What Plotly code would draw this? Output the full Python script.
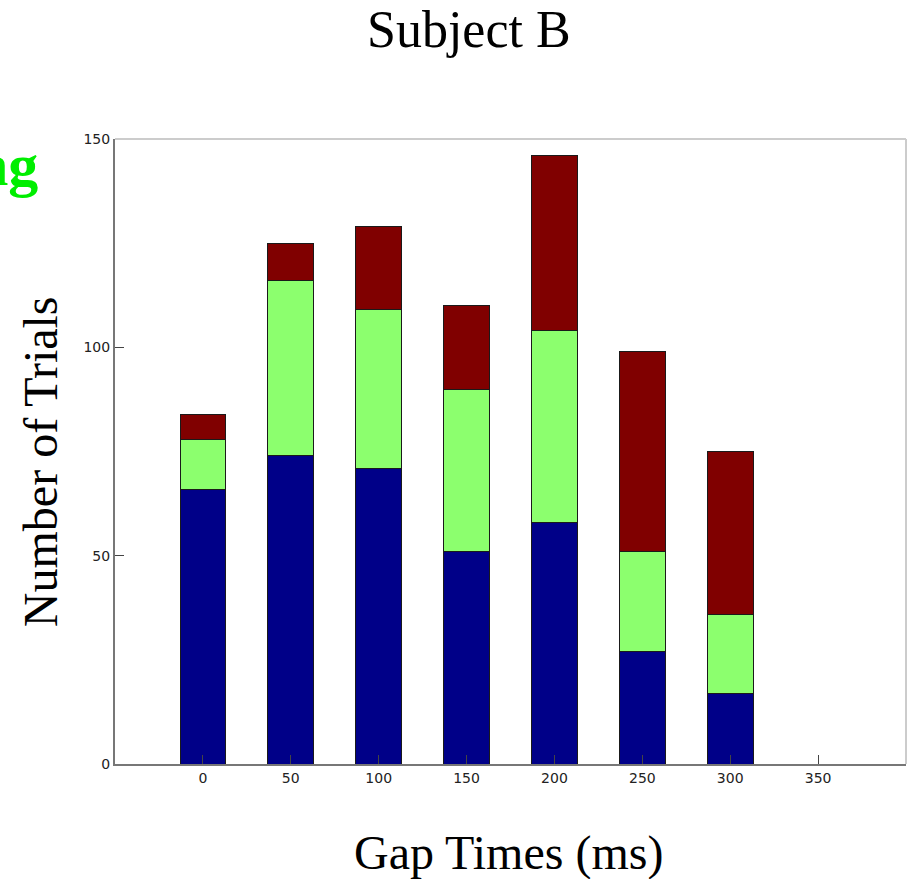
import plotly.graph_objects as go

# Gap times (ms) and trial counts per response category
gap_times = [0, 50, 100, 150, 200, 250, 300]
tick_values = [0, 50, 100, 150, 200, 250, 300, 350]
series_bottom = [66, 74, 71, 51, 58, 27, 17]   # navy segment
series_middle = [12, 42, 38, 39, 46, 24, 19]   # light green segment
series_top = [6, 9, 20, 20, 42, 48, 39]        # dark red segment

colors = ["#000088", "#8CFF6E", "#800000"]
serif = "Liberation Serif, Times New Roman, serif"

fig = go.Figure()
for vals, col in zip([series_bottom, series_middle, series_top], colors):
    fig.add_trace(go.Bar(
        x=gap_times, y=vals, width=26,
        marker=dict(color=col, line=dict(color="#1a1a1a", width=1)),
        showlegend=False,
    ))

fig.update_layout(
    barmode="stack",
    width=912, height=879,
    margin=dict(l=115, r=6, t=139, b=115),
    paper_bgcolor="white", plot_bgcolor="white",
    xaxis=dict(
        range=[-50, 400], tickvals=tick_values,
        ticks="inside", ticklen=9, tickcolor="#444", tickwidth=1,
        showline=True, linecolor="#777", linewidth=2,
        showgrid=False, zeroline=False,
        tickfont=dict(family="DejaVu Sans", size=14, color="#222"),
    ),
    yaxis=dict(
        range=[0, 150], tickvals=[0, 50, 100, 150],
        ticks="inside", ticklen=9, tickcolor="#444", tickwidth=1,
        showline=True, linecolor="#777", linewidth=2,
        showgrid=False, zeroline=False,
        tickfont=dict(family="DejaVu Sans", size=14, color="#222"),
    ),
    shapes=[
        dict(type="line", xref="paper", yref="paper", x0=0, x1=1, y0=1, y1=1,
             line=dict(color="#cccccc", width=2)),
        dict(type="line", xref="paper", yref="paper", x0=1, x1=1, y0=0, y1=1,
             line=dict(color="#cccccc", width=2)),
    ],
    annotations=[
        dict(text="Subject B", xref="paper", yref="paper", x=0.4475, y=1.1744,
             xanchor="center", yanchor="middle", showarrow=False,
             font=dict(family=serif, size=52, color="black")),
        dict(text="Gap Times (ms)", xref="paper", yref="paper", x=0.497, y=-0.1424,
             xanchor="center", yanchor="middle", showarrow=False,
             font=dict(family=serif, size=48, color="black")),
        dict(text="Number of Trials", xref="paper", yref="paper", x=-0.0948, y=0.483,
             xanchor="center", yanchor="middle", textangle=-90, showarrow=False,
             font=dict(family=serif, size=48, color="black")),
        dict(text="<b>ng</b>", xref="paper", yref="paper", x=-0.0948, y=0.959,
             xanchor="right", yanchor="middle", showarrow=False,
             font=dict(family=serif, size=60, color="#00ee00")),
    ],
)

fig.write_html("out.html")
